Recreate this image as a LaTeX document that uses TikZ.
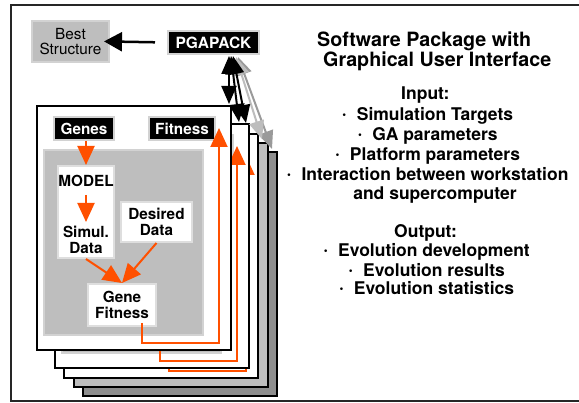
\documentclass[tikz,border=0pt]{standalone}
\usepackage{fontspec}
\setmainfont{TeX Gyre Heros}
\usetikzlibrary{arrows.meta}
\definecolor{boxgray}{HTML}{BEBEBE}
\definecolor{edgegray}{HTML}{D2D2D2}
\definecolor{whiteedge}{HTML}{DEDEDE}
\definecolor{darkpage}{HTML}{8E8E8E}
\definecolor{lightarrow}{HTML}{BDBDBD}
\definecolor{darkarrow}{HTML}{9A9A9A}
\definecolor{orng}{HTML}{FF5000}
\tikzset{
  lbl/.style={font=\fontsize{15.3pt}{16pt}\selectfont\bfseries, inner sep=0pt},
  blackbox/.style={lbl, fill=black, draw=edgegray, line width=2pt, text=white},
  whitebox/.style={lbl, fill=white, draw=whiteedge, line width=2pt, align=center},
  panel/.style={fill=boxgray, draw=edgegray, line width=2pt, inner sep=0pt},
  pagebox/.style={draw=black, line width=2pt, inner sep=0pt, minimum width=194pt, minimum height=244pt},
  oarrow/.style={draw=orng, line width=2pt, -{Triangle[length=19pt,width=17pt]}},
  biarrow/.style={line width=2pt, {Triangle[length=18pt,width=15pt]}-{Triangle[length=18pt,width=15pt]}},
  rtext/.style={font=\fontsize{17.5pt}{19pt}\selectfont\bfseries, inner sep=0pt},
  ttext/.style={font=\fontsize{19.7pt}{20pt}\selectfont\bfseries, inner sep=0pt},
}
\newcommand\bul{\llap{\raisebox{2pt}{\fontsize{11pt}{11pt}\selectfont\textbullet}\hspace{10.5pt}}}
% #1,#2: top-left corner; #3: name prefix; #4: 1 = front page with texts, 0 = back page
\newcommand\gapage[4]{%
\begin{scope}[shift={(#1,#2)}, name prefix=#3]
  \ifnum#4=1
    \def\tGenes{Genes}\def\tFit{Fitness}\def\tModel{MODEL}\def\tSim{Simul.\\Data}%
    \def\tDes{Desired\\Data}\def\tGF{Gene\\Fitness}%
  \else
    \def\tGenes{}\def\tFit{}\def\tModel{}\def\tSim{}\def\tDes{}\def\tGF{}%
  \fi
  \node[pagebox, fill=white, anchor=north west] (-pg) at (0,0) {};
  \node[blackbox, minimum width=60pt, minimum height=23pt] (-genes) at (48,23.5) {\tGenes};
  \node[blackbox, minimum width=66pt, minimum height=23pt] (-fit) at (146,23.5) {\tFit};
  \node[panel, minimum width=159pt, minimum height=185pt] (-panel) at (87.5,137.5) {};
  \node[whitebox, minimum width=56pt, minimum height=92pt] (-model) at (50,107) {};
  \node[lbl, anchor=base, minimum height=11pt] (-mtext) at (50,82) {\tModel};
  \node[lbl, align=center, minimum height=27pt] (-stext) at (50,134.5) {\tSim};
  \node[whitebox, minimum width=71pt, minimum height=40pt] (-des) at (120.5,117) {\tDes};
  \node[whitebox, minimum width=68pt, minimum height=42pt] (-gf) at (86,200) {\tGF};
  \coordinate (-ftip) at (183,23);
  \draw[oarrow] (-genes.south -| -model.north) -- (-model.north);
  \draw[oarrow] (50,90) -- (50,117);
  \draw[oarrow] (-model.south) -- (-gf.north);
  \draw[oarrow] (-des.south) -- (-gf.north);
  \draw[oarrow] (-gf.south) ++(20,-4) -- ++(0,20) -| (-ftip);
\end{scope}}
\begin{document}
\begin{tikzpicture}[x=1pt,y=-1pt]
\useasboundingbox[fill=white] (0,0) rectangle (579,403);
\draw[line width=1.6pt, black!85] (579,5) -- (11,5) -- (11,401) -- (579,401);

\node[panel, font=\fontsize{15.3pt}{15.5pt}\selectfont, align=center,
      minimum width=77pt, minimum height=41pt] (best) at (70.5,41.5) {Best\\Structure};
\node[blackbox, font=\fontsize{15.5pt}{16pt}\selectfont\bfseries,
      minimum width=91pt, minimum height=23pt] (pga) at (213.5,42.5) {PGAPACK};
\draw[line width=2.5pt, -{Triangle[length=18pt,width=19pt]}, shorten <=12pt, shorten >=-6pt]
  (pga.west) -- (best.east);

\node[pagebox, fill=darkpage, anchor=north west] (p5) at (82,151) {};
\node[pagebox, fill=boxgray, anchor=north west] (p4) at (73,142) {};
\gapage{63}{133}{p3}{0}
\gapage{54}{123}{p2}{0}
\gapage{36}{105}{p1}{1}

\coordinate (a1s) at (229,56); \coordinate (a1e) at (229,104);
\coordinate (a2s) at (231,56); \coordinate (a2e) at (239,122);
\coordinate (a3s) at (233,56); \coordinate (a3e) at (246,123);
\coordinate (a4s) at (236,57); \coordinate (a4e) at (262,139);
\coordinate (a5s) at (238,57); \coordinate (a5e) at (272,149);
\draw[biarrow, darkarrow] (a5s) -- (a5e);
\draw[biarrow, lightarrow] (a4s) -- (a4e);
\draw[biarrow] (a3s) -- (a3e);
\draw[biarrow] (a2s) -- (a2e);
\draw[biarrow] (a1s) -- (a1e);

\node[ttext, anchor=base west] (t1) at (317,47) {Software Package with};
\node[ttext, anchor=base west] (t2) at (323,67) {Graphical User Interface};
\node[rtext, anchor=base west] (inp) at (401,100) {Input:};
\node[rtext, anchor=base] (i1) at (435,121) {\bul Simulation Targets};
\node[rtext, anchor=base] (i2) at (435,141) {\bul GA parameters};
\node[rtext, anchor=base] (i3) at (435,160.5) {\bul Platform parameters};
\node[rtext, anchor=base] (i4) at (435,180.5) {\bul Interaction between workstation};
\node[rtext, anchor=base] (i4b) at (435,199.5) {and supercomputer};
\node[rtext, anchor=base west] (outp) at (394,238) {Output:};
\node[rtext, anchor=base] (o1) at (434,257) {\bul Evolution development};
\node[rtext, anchor=base] (o2) at (434,276.5) {\bul Evolution results};
\node[rtext, anchor=base] (o3) at (434,295) {\bul Evolution statistics};
\end{tikzpicture}
\end{document}
